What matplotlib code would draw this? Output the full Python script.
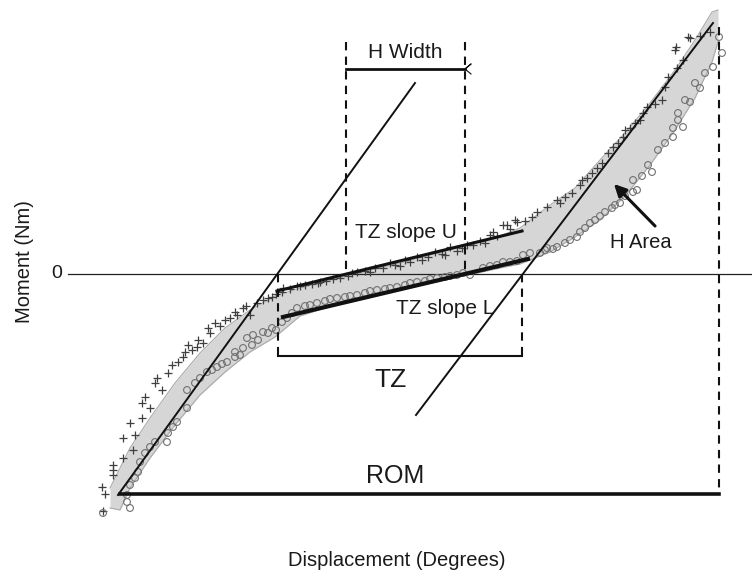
import matplotlib
matplotlib.use("Agg")
import matplotlib.pyplot as plt
import numpy as np

plt.rcParams['font.family'] = ['Liberation Sans', 'DejaVu Sans']

# Coordinates: x = displacement (px units), y = moment (px units, 0 at zero line)
ZERO_PX = 274

# Loading curve (+ markers), pixel positions
up_x = [103, 102, 105, 113, 113, 113, 123, 123, 133, 135, 130, 142, 142, 150, 145, 155, 162, 157,
        168, 172, 183, 185, 188, 197, 198, 210, 208, 215, 225, 237, 235, 243, 250, 257, 263, 272,
        282, 283, 300, 320, 340, 357, 375, 390, 405, 417, 435, 450, 467, 473, 490, 493, 503, 507,
        515, 517, 532, 537, 547, 557, 565, 580, 582, 592, 602, 608, 613, 623, 625, 635, 643, 647,
        662, 665, 668, 677, 675, 676, 690, 688, 710,
        290, 297, 305, 312, 318, 326, 333, 348, 352, 365, 370, 383, 395, 400, 410, 422, 428, 442,
        445, 457, 462, 480, 485, 497, 510, 525, 178, 192, 203, 220, 230, 246, 268, 276, 560, 572,
        587, 597, 618, 630, 640, 655, 683, 700]
up_y = [511, 487, 494, 465, 470, 475, 438, 458, 450, 435, 423, 418, 403, 408, 397, 383, 390, 378,
        373, 365, 357, 352, 345, 347, 340, 333, 328, 323, 320, 315, 312, 308, 315, 303, 300, 297,
        292, 288, 286, 282, 278, 272, 268, 263, 260, 257, 252, 247, 245, 245, 235, 232, 225, 225,
        220, 222, 217, 212, 207, 200, 197, 185, 180, 173, 163, 153, 147, 137, 130, 123, 113, 107,
        100, 87, 77, 68, 50, 47, 38, 37, 32,
        289, 286, 285, 284, 283, 281, 279, 276, 273, 271, 272, 268, 265, 266, 262, 260, 257, 254,
        255, 251, 248, 241, 243, 236, 229, 221, 362, 350, 343, 326, 318, 306, 298, 294, 203, 193,
        178, 168, 143, 128, 120, 104, 60, 36]

# Unloading curve (o markers), pixel positions
lo_x = [103, 130, 127, 127, 130, 135, 138, 140, 145, 150, 155, 167, 168, 173, 177, 187, 187, 195,
        207, 217, 227, 235, 235, 243, 252, 247, 253, 263, 272, 282, 297, 317, 337, 357, 377, 397,
        417, 437, 457, 470, 483, 497, 503, 517, 523, 530, 540, 547, 557, 565, 577, 580, 590, 600,
        612, 615, 620, 633, 637, 633, 648, 652, 658, 665, 673, 673, 678, 678, 683, 685, 690, 695,
        705, 713, 722, 719,
        287, 292, 305, 310, 325, 330, 345, 350, 365, 370, 385, 390, 405, 410, 425, 430, 445, 450,
        463, 490, 510, 545, 553, 570, 200, 212, 222, 240, 258, 268, 276, 585, 595, 605, 625, 642,
        700]
lo_y = [513, 508, 502, 495, 485, 478, 472, 462, 453, 447, 442, 442, 433, 427, 422, 408, 390, 383,
        372, 367, 362, 357, 352, 348, 345, 338, 335, 332, 328, 322, 308, 303, 298, 295, 290, 287,
        282, 278, 275, 275, 268, 265, 262, 261, 255, 253, 253, 248, 247, 243, 237, 232, 223, 216,
        208, 205, 203, 192, 190, 180, 165, 172, 150, 143, 137, 128, 120, 113, 127, 100, 102, 83,
        73, 67, 53, 37,
        318, 313, 306, 305, 301, 299, 297, 296, 293, 291, 289, 288, 285, 283, 281, 279, 277, 276,
        273, 266, 262, 250, 249, 240, 378, 370, 364, 355, 340, 333, 330, 228, 220, 212, 196, 176,
        88]

# Shaded hysteresis area (band edges), pixel positions
band_x = [110, 120, 130, 150, 175, 200, 225, 250, 275, 300, 350, 400, 450, 500, 520, 550, 575, 600,
          625, 650, 675, 695, 712, 718]
band_top = [488, 468, 448, 418, 383, 353, 328, 310, 296, 288, 275, 263, 250, 236, 228, 205, 188, 160,
            133, 103, 70, 40, 12, 10]
band_bot = [508, 510, 488, 458, 425, 395, 372, 352, 337, 316, 300, 290, 279, 268, 264, 252, 237, 220,
            196, 165, 130, 98, 62, 42]

# Fitted lines (endpoints, pixel positions)
steep1 = ([118, 415], [495, 83])
steep2 = ([416, 713], [415, 23])
tz_u = ([277, 522], [291, 231])
tz_l = ([283, 528], [317, 259])


def y(py):
    return ZERO_PX - np.asarray(py, dtype=float)


fig = plt.figure(figsize=(7.52, 5.76), dpi=100)
ax = fig.add_axes([0, 0, 1, 1])
ax.set_xlim(0, 752)
ax.set_ylim(ZERO_PX - 576, ZERO_PX)
ax.axis('off')

# band
ax.fill_between(band_x, y(band_top), y(band_bot), color='#d6d6d6', lw=0, zorder=1)
ax.plot(band_x, y(band_top), color='#aaaaaa', lw=0.8, zorder=2)
ax.plot(band_x, y(band_bot), color='#aaaaaa', lw=0.8, zorder=2)

# data markers
ax.scatter(up_x, y(up_y), marker='+', s=28, color='#3f3f3f', linewidths=0.9, zorder=3)
ax.scatter(lo_x, y(lo_y), marker='o', s=24, facecolors='none', edgecolors='#707070', linewidths=0.8, zorder=3)

# zero line
ax.plot([68, 752], [0, 0], color='#222222', lw=0.9, zorder=2)

# fitted lines
ax.plot(steep1[0], y(steep1[1]), color='#111111', lw=1.4, zorder=4)
ax.plot(steep2[0], y(steep2[1]), color='#111111', lw=1.4, zorder=4)
ax.plot(tz_u[0], y(tz_u[1]), color='#111111', lw=2.2, zorder=4)
ax.plot(tz_l[0], y(tz_l[1]), color='#111111', lw=3.0, zorder=4)

# dashed guides
dash = dict(color='#111111', lw=1.5, ls=(0, (4, 3)), zorder=4)
ax.plot([346, 346], y([42, 274]), **dash)
ax.plot([465, 465], y([42, 274]), **dash)
ax.plot([278, 278], y([274, 360]), **dash)
ax.plot([522, 522], y([274, 360]), **dash)
ax.plot([719, 719], y([27, 494]), **dash)

# dimension bars
ax.plot([346, 465], y([69, 69]), color='#111111', lw=2.0, zorder=4)
ax.plot([465, 471, 465, 471], y([69, 64, 69, 74]), color='#111111', lw=0.8, zorder=4)
ax.plot([278, 522], y([356, 356]), color='#111111', lw=1.5, zorder=4)
ax.plot([120, 719], y([494, 494]), color='#111111', lw=2.6, zorder=4)

# arrow
ax.annotate('', xy=(612, y(182)), xytext=(657, y(228)),
            arrowprops=dict(arrowstyle='-|>', color='#111111', lw=2.2, mutation_scale=18), zorder=5)

tc = '#1a1a1a'
ax.text(405, y(53), 'H Width', ha='center', va='center', fontsize=15, color=tc)
ax.text(406, y(233), 'TZ slope U', ha='center', va='center', fontsize=15, color=tc)
ax.text(445, y(308), 'TZ slope L', ha='center', va='center', fontsize=15, color=tc)
ax.text(391, y(380), 'TZ', ha='center', va='center', fontsize=19, color=tc)
ax.text(395, y(476), 'ROM', ha='center', va='center', fontsize=18, color=tc)
ax.text(641, y(243), 'H Area', ha='center', va='center', fontsize=14.5, color=tc)
ax.text(57, y(273), '0', ha='center', va='center', fontsize=14, color=tc)
ax.text(25, y(262), 'Moment (Nm)', ha='center', va='center', rotation=90, fontsize=14.5, color=tc)
ax.text(397, y(561), 'Displacement (Degrees)', ha='center', va='center', fontsize=14.5, color=tc)

fig.savefig('out.png', dpi=100)
